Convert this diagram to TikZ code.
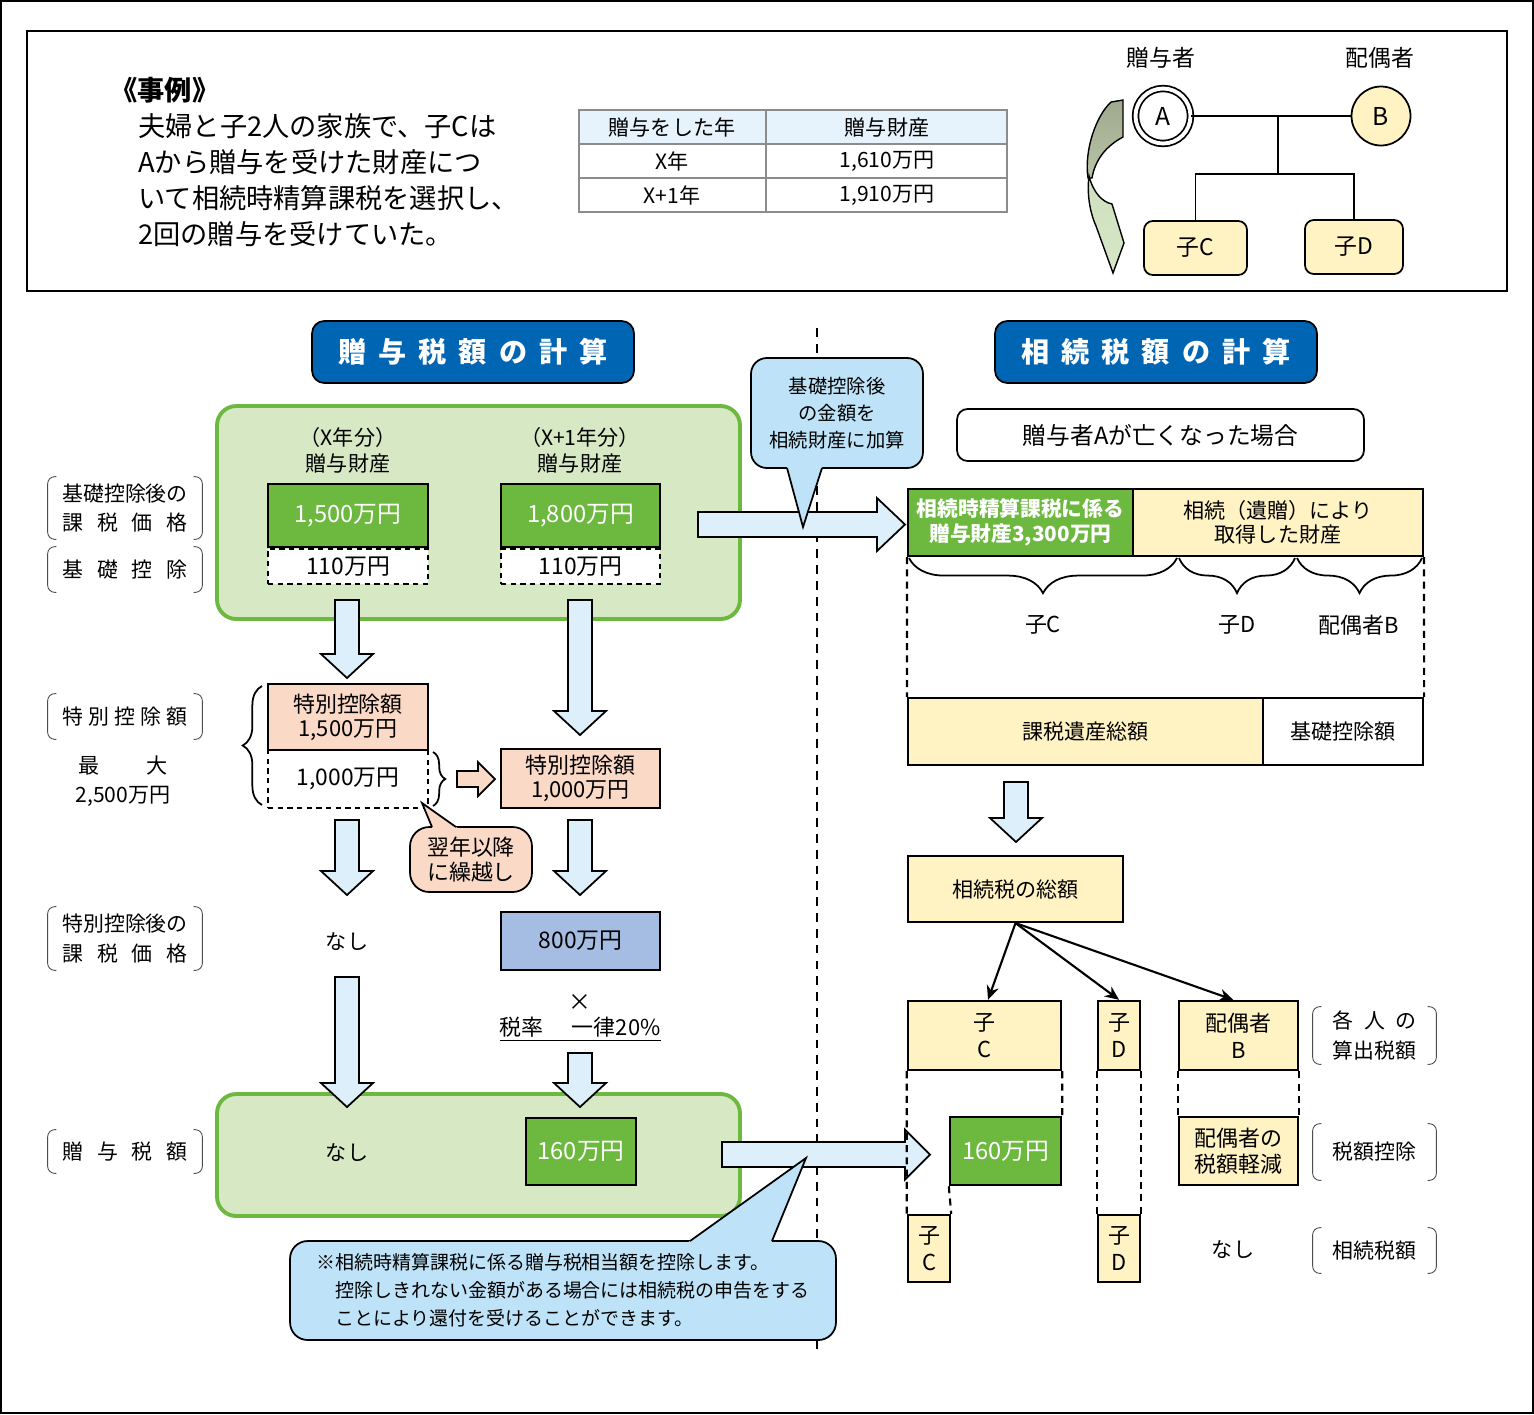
\documentclass[tikz,border=0pt]{standalone}
\usepackage{fontspec}
\setmainfont{Noto Sans CJK JP}
\usetikzlibrary{positioning}
\usetikzlibrary{calc}
\usetikzlibrary{arrows.meta}
\usetikzlibrary{decorations.pathreplacing}

\definecolor{giftgreen}{HTML}{6DB83F}
\definecolor{palegreen}{HTML}{D7E8C5}
\definecolor{titleblue}{HTML}{0066B3}
\definecolor{arrowblue}{HTML}{DDEFFA}
\definecolor{bubbleblue}{HTML}{BEE3F8}
\definecolor{cream}{HTML}{FFF2C3}
\definecolor{peach}{HTML}{FAD9C6}
\definecolor{slate}{HTML}{A5BDE2}
\definecolor{tablehead}{HTML}{E6F3FC}
\definecolor{ribbongray}{HTML}{9FA98D}
\definecolor{ribbonmid}{HTML}{B9C3A7}
\definecolor{ribbonlight}{HTML}{D5E7C6}

\tikzset{
  blockarrow/.style={draw, line width=1pt, fill=arrowblue, line join=miter},
  parenline/.style={draw=black!70, line width=0.5pt, rounded corners=4pt},
  dashline/.style={line width=1.2pt, dash pattern=on 4pt off 3pt}
}

% block arrows: x, y top, y tip
\newcommand\blockdown[3]{\draw[blockarrow] (#1-12,#2) -- (#1+12,#2) -- (#1+12,#3-24) -- (#1+26,#3-24) -- (#1,#3) -- (#1-26,#3-24) -- (#1-12,#3-24) -- cycle;}
% fill, y, x start, x tip, shaft half, head half, head length
\newcommand\blockright[7]{\draw[blockarrow, fill=#1] (#3,#2-#5) -- (#4-#7,#2-#5) -- (#4-#7,#2-#6) -- (#4,#2) -- (#4-#7,#2+#6) -- (#4-#7,#2+#5) -- (#3,#2+#5) -- cycle;}
% round brackets round a label node
\newcommand\parens[1]{%
  \draw[parenline] ([xshift=5pt]#1.north west) -- (#1.north west) -- (#1.south west) -- ([xshift=5pt]#1.south west);
  \draw[parenline] ([xshift=-5pt]#1.north east) -- (#1.north east) -- (#1.south east) -- ([xshift=-5pt]#1.south east);}

\begin{document}
\begin{tikzpicture}[x=0.02cm, y=-0.02cm,
  every node/.style={font=\fontsize{12}{14.5}\selectfont},
  box/.style={draw, line width=1pt, inner sep=0pt, align=center},
  greenbox/.style={box, fill=giftgreen, text=white, font=\fontsize{13.5}{16}\selectfont},
  dashbox/.style={box, fill=white, dash pattern=on 3pt off 2.5pt, font=\fontsize{13}{16}\selectfont},
  peachbox/.style={box, fill=peach, font=\fontsize{12.5}{13.7}\selectfont},
  creambox/.style={box, fill=cream},
  titlebar/.style={draw, line width=1pt, fill=titleblue, text=white, rounded corners=7pt,
    minimum width=6.44cm, minimum height=1.24cm, font=\fontsize{16}{18}\selectfont\bfseries},
  panel/.style={draw=giftgreen, line width=2.2pt, fill=palegreen, rounded corners=11pt},
  sidelabel/.style={inner sep=0pt, minimum width=3.08cm, align=center, font=\fontsize{11.9}{17}\selectfont},
  bubble/.style={draw, line width=1pt, fill=bubbleblue, rounded corners=9pt, inner sep=0pt, align=center},
  person/.style={draw, line width=1pt, fill=cream, rounded corners=5pt, font=\fontsize{13}{15}\selectfont}]
\useasboundingbox (0,0) rectangle (1534,1414);
\draw[line width=0.8pt] (1,1) rectangle (1533,1413);

% case
\draw[line width=1pt] (27,31) rectangle (1507,291);
\node[anchor=west, inner sep=0pt, font=\fontsize{15.5}{18}\selectfont\bfseries] (case) at (110,90) {《事例》};
\node[anchor=north west, inner sep=0pt, align=left, font=\fontsize{15.5}{20.5}\selectfont] (story) at (138,113)
  {夫婦と子2人の家族で、子Cは\\Aから贈与を受けた財産につ\\いて相続時精算課税を選択し、\\2回の贈与を受けていた。};

% table
\fill[tablehead] (579,110) rectangle (1007,144);
\draw[black!45, line width=0.6pt] (579,110) rectangle (1007,212) (579,144) -- (1007,144) (579,178) -- (1007,178) (766,110) -- (766,212);
\node (yearhead) at (672,127) {贈与をした年};
\node (prophead) at (887,127) {贈与財産};
\node (yearx) at (672,161) {X年};
\node (propx) at (887,161) {1,610万円};
\node (yearxx) at (672,195) {X+1年};
\node (propxx) at (887,195) {1,910万円};

% family
\node[circle, draw, double, line width=1pt, double distance=2.2pt, minimum size=1.1cm, font=\fontsize{14}{16}\selectfont] (A) at (1163,116) {A};
\node[circle, draw, line width=1pt, fill=cream, minimum size=1.18cm, font=\fontsize{14}{16}\selectfont] (B) at (1381,116) {B};
\node[font=\fontsize{13}{15}\selectfont] (donor) at (1161,58) {贈与者};
\node[font=\fontsize{13}{15}\selectfont] (spouse) at (1380,58) {配偶者};
\node[person, minimum width=2.06cm, minimum height=1.08cm] (kidC) at (1195.5,248) {子C};
\node[person, minimum width=1.96cm, minimum height=1.08cm] (kidD) at (1354,247) {子D};
\coordinate (wed) at (1278,116);
\coordinate (fork) at (1278,174);
\draw[line width=1pt] (A) -- (B);
\draw[line width=1pt] (wed) -- (fork);
\draw[line width=1pt] (kidC.north) |- (fork) -| (kidD.north);
% twisted ribbon arrow
\draw[line width=0.8pt, top color=ribbongray, bottom color=ribbonmid]
  (1111,102) -- (1123,100) -- (1123,137) .. controls (1106,146) and (1095,160) .. (1092,178)
  -- (1088,178) .. controls (1084,150) and (1096,116) .. (1111,102) -- cycle;
\draw[line width=0.8pt, top color=ribbonlight!80!ribbonmid, bottom color=ribbonlight]
  (1089,176) .. controls (1093,192) and (1102,202) .. (1112,204) -- (1124,243) -- (1113,273)
  -- (1096,226) .. controls (1089,210) and (1087,192) .. (1089,176) -- cycle;

% divider
\draw[line width=1pt, dash pattern=on 5pt off 4pt] (817,328) -- (817,1352);

% left side: gift tax
\node[titlebar] (gifttitle) at (473,352) {\makebox[153pt]{贈\hfill 与\hfill 税\hfill 額\hfill の\hfill 計\hfill 算}};
\draw[panel] (217,406) rectangle (740,619);
\node[align=center, font=\fontsize{12}{14.8}\selectfont] (year1) at (348,450) {（X年分）\\贈与財産};
\node[align=center, font=\fontsize{12}{14.8}\selectfont] (year2) at (580,450) {（X+1年分）\\贈与財産};
\node[greenbox, minimum width=3.2cm, minimum height=1.26cm] (amt1) at (348,515.5) {1,500万円};
\node[greenbox, minimum width=3.18cm, minimum height=1.26cm] (amt2) at (580.5,515.5) {1,800万円};
\node[dashbox, minimum width=3.2cm, minimum height=0.7cm, below=0pt of amt1] (base1) {110万円};
\node[dashbox, minimum width=3.18cm, minimum height=0.7cm, below=0pt of amt2] (base2) {110万円};

\node[sidelabel, minimum height=1.24cm] (lbase) at (125,508) {基礎控除後の\\\makebox[6em]{課\hfill 税\hfill 価\hfill 格}};
\node[sidelabel, minimum height=0.9cm] (ldeduct) at (125,569.5) {\makebox[6em]{基\hfill 礎\hfill 控\hfill 除}};
\node[sidelabel, minimum height=0.9cm] (lspecial) at (125,716.5) {\makebox[6em]{特\hfill 別\hfill 控\hfill 除\hfill 額}};
\node[sidelabel, font=\fontsize{12}{16.5}\selectfont] (lmax) at (123,781) {\makebox[4.2em]{最\hfill 大}\\2,500万円};
\node[sidelabel, minimum height=1.26cm] (lafter) at (125,938.5) {特別控除後の\\\makebox[6em]{課\hfill 税\hfill 価\hfill 格}};
\node[sidelabel, minimum height=0.86cm] (lgift) at (125,1151.5) {\makebox[6em]{贈\hfill 与\hfill 税\hfill 額}};
\parens{lbase}
\parens{ldeduct}
\parens{lspecial}
\parens{lafter}
\parens{lgift}

\blockdown{347}{600}{678}
\blockdown{580}{600}{735}

\node[dashbox, minimum width=3.2cm, minimum height=1.16cm, font=\fontsize{13}{16}\selectfont] (carry) at (348,779) {1,000万円};
\node[peachbox, minimum width=3.2cm, minimum height=1.32cm] (spec1) at (348,717) {特別控除額\\1,500万円};
\node[peachbox, minimum width=3.18cm, minimum height=1.18cm] (spec2) at (580.5,778.5) {特別控除額\\1,000万円};
\draw[line width=1pt, decorate, decoration={brace, amplitude=11pt}] (262,805) -- (262,686);
\draw[line width=1pt, decorate, decoration={brace, amplitude=7pt}] (433,752) -- (433,806);
\blockright{peach}{779}{457}{495}{8}{17}{17}

\node[bubble, fill=peach, rounded corners=11pt, minimum width=2.44cm, minimum height=1.3cm, font=\fontsize{12.5}{14.5}\selectfont] (nextyear) at (471,859.5) {翌年以降\\に繰越し};
\fill[peach] (434.5,833) -- (422,803) -- (464.5,833) -- cycle;
\draw[line width=1pt] (432,827) -- (422,803) -- (456,827);

\blockdown{347}{820}{895}
\blockdown{580}{820}{895}
\node (none1) at (347,942) {なし};
\node[box, fill=slate, minimum width=3.18cm, minimum height=1.16cm, font=\fontsize{13}{16}\selectfont] (taxable) at (580.5,941) {800万円};
\node[font=\fontsize{13}{15}\selectfont] (times) at (580,1003) {×};
\node[font=\fontsize{12.5}{15}\selectfont] (rate) at (580,1029) {\underline{税率\hspace{1.3em}一律20\%}};

\draw[panel] (217,1094) rectangle (740,1216);
\blockdown{347}{977}{1107}
\blockdown{580}{1053}{1107}
\node (none2) at (347,1153) {なし};
\node[greenbox, minimum width=2.2cm, minimum height=1.34cm] (gifttax) at (581,1151.5) {160万円};

% right side: inheritance tax
\node[titlebar] (inhtitle) at (1156,352) {\makebox[153pt]{相\hfill 続\hfill 税\hfill 額\hfill の\hfill 計\hfill 算}};
\node[box, rounded corners=6pt, minimum width=8.14cm, minimum height=1.04cm, font=\fontsize{13.5}{16}\selectfont] (ifdied) at (1160.5,435) {贈与者Aが亡くなった場合};

\blockright{arrowblue}{524.5}{698}{905}{12.5}{26.5}{28}
\node[bubble, minimum width=3.44cm, minimum height=2.2cm, font=\fontsize{11}{15.5}\selectfont] (addnote) at (837,413) {基礎控除後\\の金額を\\相続財産に加算};
\fill[bubbleblue] (785.4,462) -- (803,527) -- (823.9,462) -- cycle;
\draw[line width=1pt] (787,468) -- (803,527) -- (822,468);

\node[box, line width=1.2pt, fill=giftgreen, text=white, minimum width=4.5cm, minimum height=1.34cm, font=\fontsize{11.8}{14}\selectfont\bfseries] (settled) at (1020.5,522.5) {相続時精算課税に係る\\贈与財産3,300万円};
\node[box, line width=1.2pt, fill=cream, minimum width=5.8cm, minimum height=1.34cm, font=\fontsize{12}{14}\selectfont] (bequest) at (1278,522.5) {相続（遺贈）により\\取得した財産};
\draw[line width=1pt, decorate, decoration={brace, mirror, amplitude=20pt}] (909,558) -- (1177,558);
\draw[line width=1pt, decorate, decoration={brace, mirror, amplitude=20pt}] (1179,558) -- (1295,558);
\draw[line width=1pt, decorate, decoration={brace, mirror, amplitude=20pt}] (1297,558) -- (1422,558);
\node[font=\fontsize{12.5}{15}\selectfont] (shareC) at (1043,625) {子C};
\node[font=\fontsize{12.5}{15}\selectfont] (shareD) at (1237,625) {子D};
\node[font=\fontsize{12.5}{15}\selectfont] (shareB) at (1359,625) {配偶者B};
\node[creambox, line width=1.2pt, minimum width=7.1cm, minimum height=1.34cm] (estate) at (1085.5,731.5) {課税遺産総額};
\node[box, line width=1.2pt, fill=white, minimum width=3.2cm, minimum height=1.34cm] (basic) at (1343,731.5) {基礎控除額};
\draw[dashline] (settled.south west) -- (estate.north west);
\draw[dashline] (bequest.south east) -- (basic.north east);

\blockdown{1016}{782}{842}
\node[creambox, line width=1.2pt, minimum width=4.3cm, minimum height=1.32cm] (total) at (1015.5,889) {相続税の総額};

\node[creambox, line width=1.4pt, minimum width=3.06cm, minimum height=1.38cm, font=\fontsize{12.5}{15.4}\selectfont] (taxC) at (984.5,1035.5) {子\\C};
\node[creambox, line width=1.4pt, minimum width=0.84cm, minimum height=1.38cm, font=\fontsize{12.5}{15.4}\selectfont] (taxD) at (1119,1035.5) {子\\D};
\node[creambox, line width=1.4pt, minimum width=2.38cm, minimum height=1.38cm, font=\fontsize{12.5}{15.4}\selectfont] (taxB) at (1238.5,1035.5) {配偶者\\B};
\draw[-{Stealth[length=8pt, width=7pt]}, line width=1.2pt] (total.south) -- ([xshift=2pt]taxC.north);
\draw[-{Stealth[length=8pt, width=7pt]}, line width=1.2pt] (total.south) -- (taxD.north);
\draw[-{Stealth[length=8pt, width=7pt]}, line width=1.2pt] (total.south) -- ([xshift=-3pt]taxB.north);

\blockright{arrowblue}{1154.5}{722}{930}{12.5}{25}{25}
\node[greenbox, line width=1.4pt, minimum width=2.22cm, minimum height=1.36cm] (credit) at (1005.5,1151) {160万円};
\node[creambox, line width=1.4pt, minimum width=2.38cm, minimum height=1.36cm, font=\fontsize{12.5}{14.5}\selectfont] (relief) at (1238.5,1151) {配偶者の\\税額軽減};
\node[creambox, line width=1.4pt, minimum width=0.84cm, minimum height=1.34cm, font=\fontsize{12.5}{15.4}\selectfont] (dueC) at (929,1248.5) {子\\C};
\node[creambox, line width=1.4pt, minimum width=0.84cm, minimum height=1.34cm, font=\fontsize{12.5}{15.4}\selectfont] (dueD) at (1119,1248.5) {子\\D};
\node (none3) at (1233,1250) {なし};
\draw[dashline] (taxC.south west) -- (dueC.north west);
\draw[dashline] (taxC.south east) -- (credit.north east);
\draw[dashline] (credit.south west) -- (dueC.north east);
\draw[dashline] (taxD.south west) -- (dueD.north west);
\draw[dashline] (taxD.south east) -- (dueD.north east);
\draw[dashline] (taxB.south west) -- (relief.north west);
\draw[dashline] (taxB.south east) -- (relief.north east);

\node[sidelabel, minimum width=2.46cm, minimum height=1.14cm] (leach) at (1374.5,1035.5) {\makebox[4em]{各\hfill 人\hfill の}\\算出税額};
\node[sidelabel, minimum width=2.46cm, minimum height=1.12cm] (lcredit) at (1374.5,1152) {税額控除};
\node[sidelabel, minimum width=2.46cm, minimum height=0.9cm] (linh) at (1374.5,1250.5) {相続税額};
\parens{leach}
\parens{lcredit}
\parens{linh}

% note
\node[bubble, rounded corners=10pt, minimum width=10.92cm, minimum height=1.98cm, align=left, font=\fontsize{10.8}{15.9}\selectfont] (refund) at (563,1290.5)
  {※相続時精算課税に係る贈与税相当額を控除します。\\\hspace*{1em}控除しきれない金額がある場合には相続税の申告をする\\\hspace*{1em}ことにより還付を受けることができます。};
\fill[bubbleblue] (681.6,1247) -- (806,1158) -- (769.5,1247) -- cycle;
\draw[line width=1pt] (690,1241) -- (806,1158) -- (772,1241);
\end{tikzpicture}
\end{document}
